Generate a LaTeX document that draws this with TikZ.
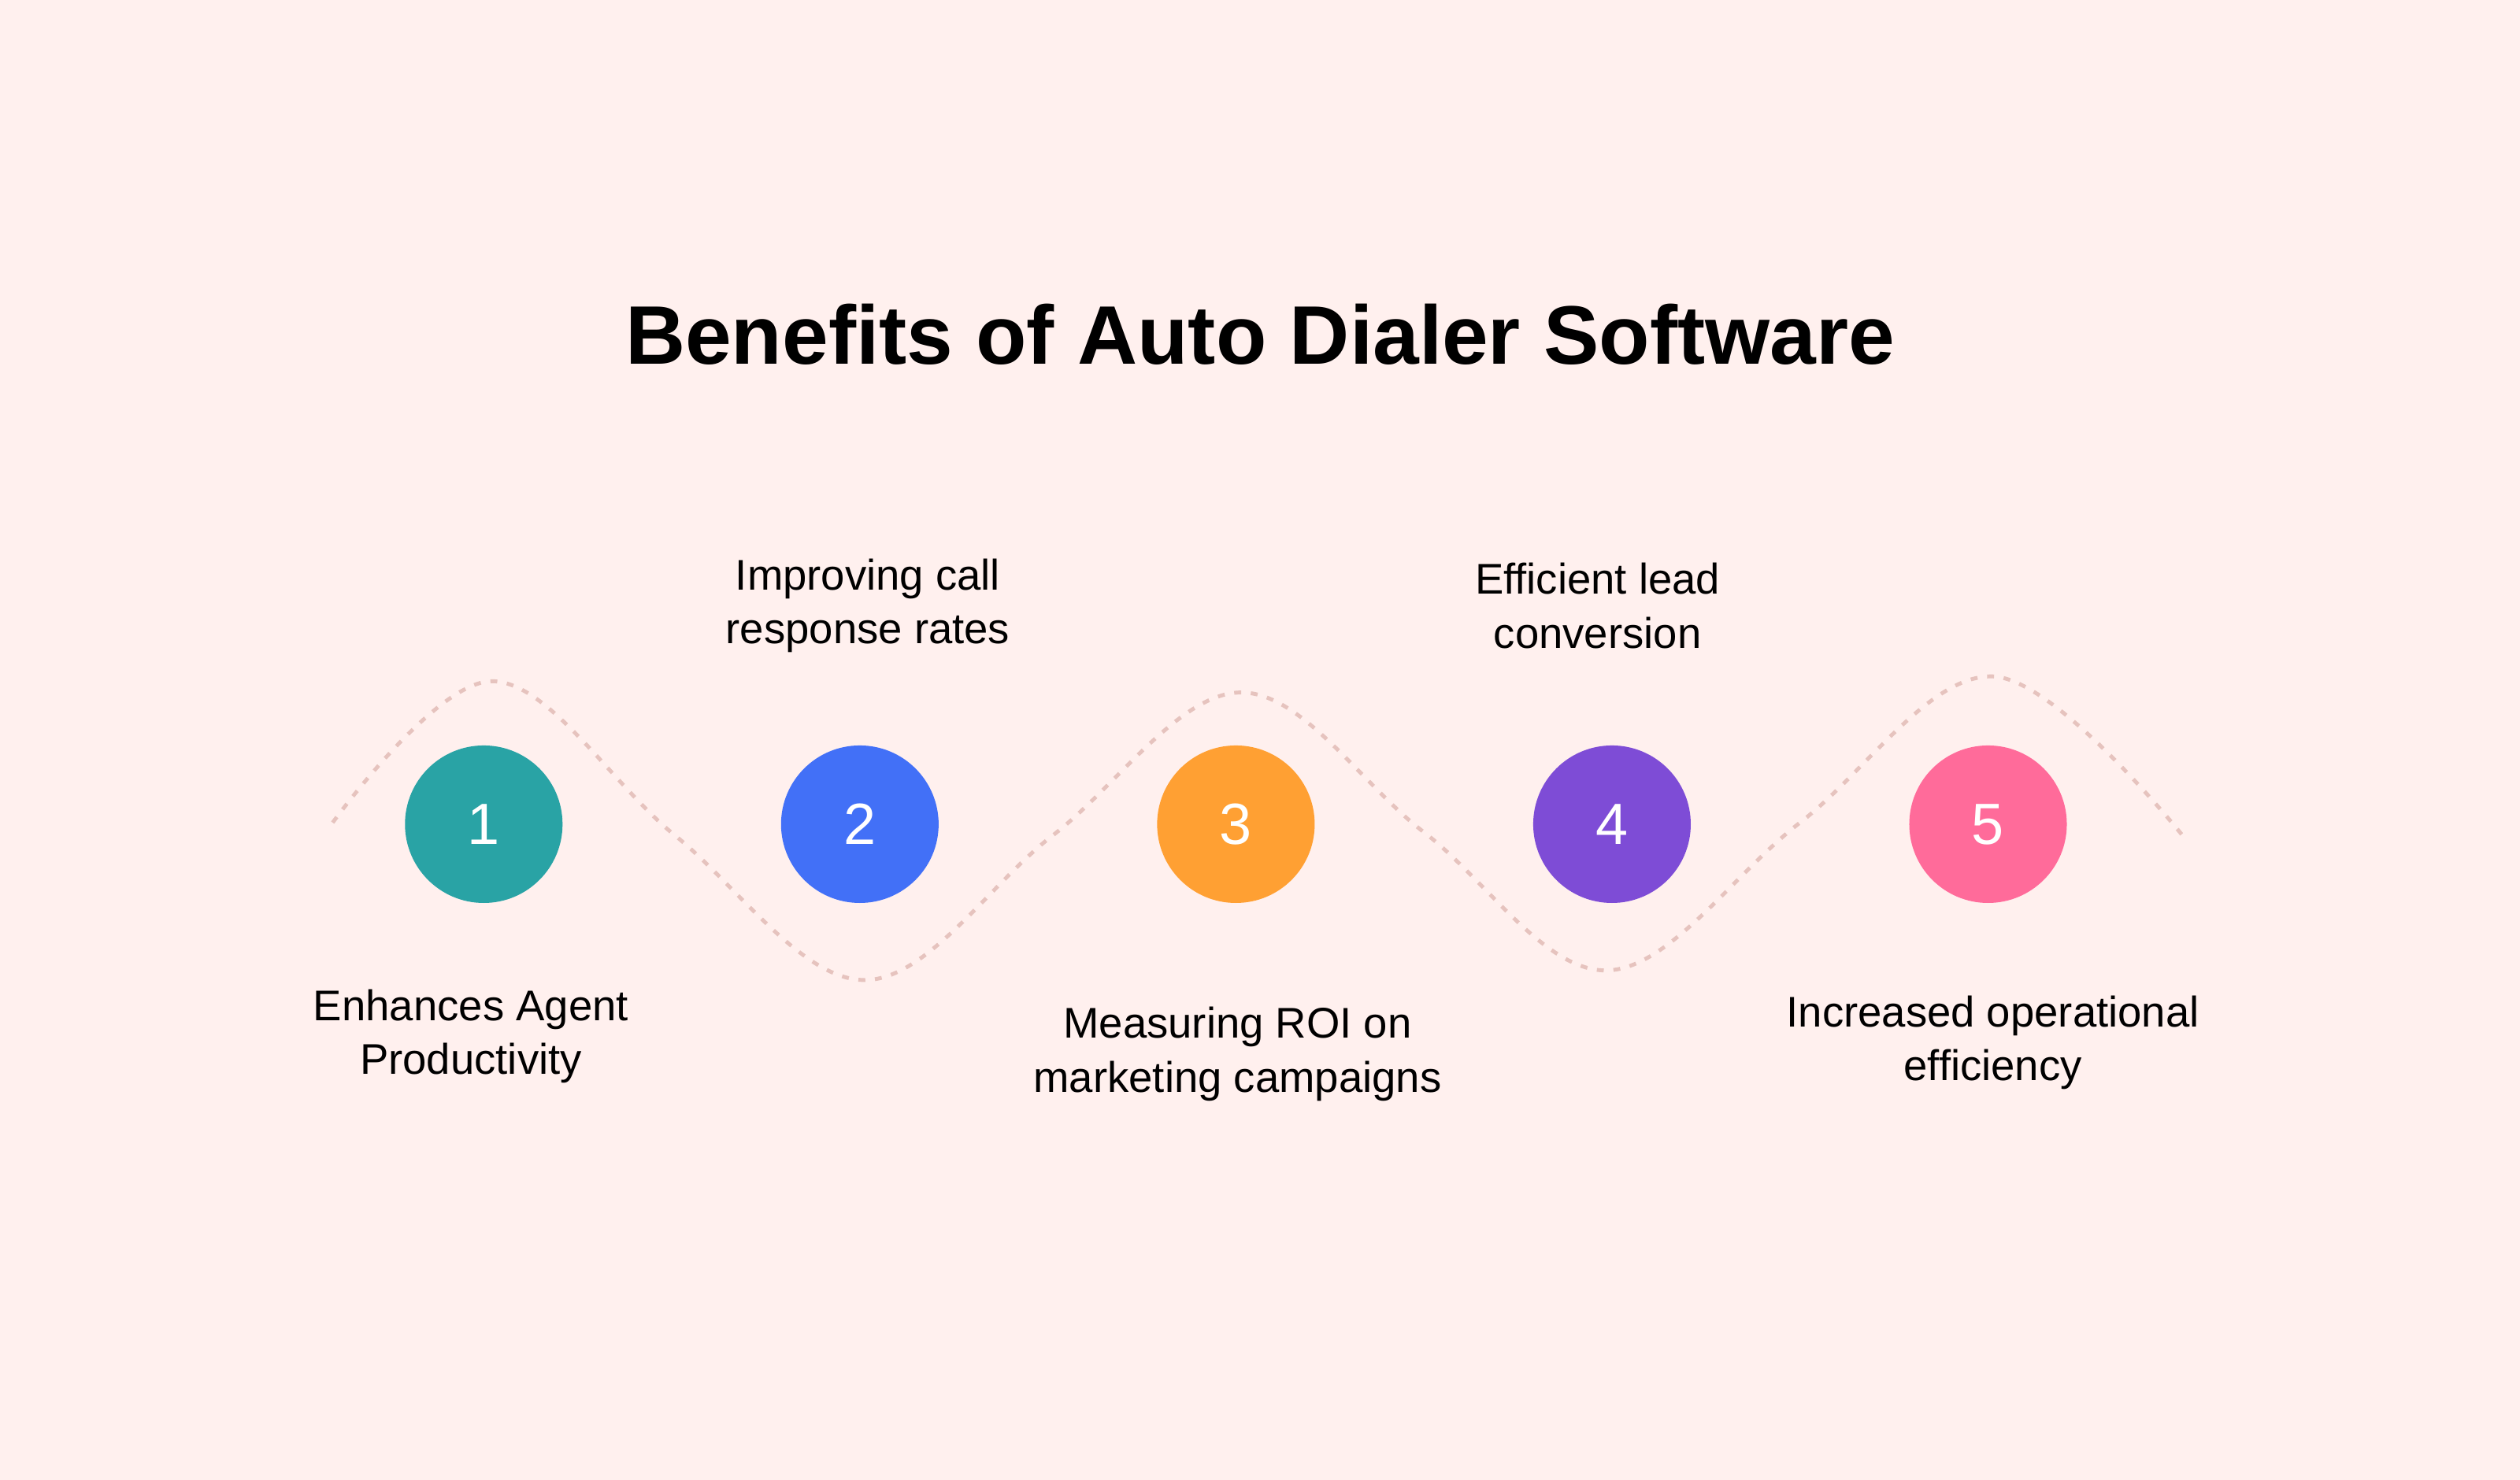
\documentclass[tikz,border=0pt]{standalone}
\usepackage{fontspec}
\setmainfont{Liberation Sans}
\definecolor{bg}{HTML}{FFF0EE}
\definecolor{wave}{HTML}{E6C3BE}
\definecolor{c1}{HTML}{29A3A5}
\definecolor{c2}{HTML}{4270F7}
\definecolor{c3}{HTML}{FFA033}
\definecolor{c4}{HTML}{7E4CD6}
\definecolor{c5}{HTML}{FF6B9A}
\begin{document}
\begin{tikzpicture}[x=0.020408cm,y=-0.020408cm,
  dot/.style={circle,minimum size=2.0cm,inner sep=0,text=white,font=\fontsize{21}{24}\selectfont},
  lbl/.style={align=center,font=\fontsize{15.5}{19.5}\selectfont,text=black}]
\fill[bg] (0,0) rectangle (1568,921);
\useasboundingbox (0,0) rectangle (1568,921);
\node[font=\fontsize{30}{34}\selectfont\bfseries] (title) at (784,208) {Benefits of Auto Dialer Software};
\draw[wave,line width=1.4pt,dash pattern=on 2.5pt off 3.5pt] plot[smooth,tension=0.6] coordinates
 {(207,512) (307,424) (420,520) (538,610) (655,520) (772,431) (886,518) (1000,604) (1120,512) (1240,421) (1358,520)};
\node[dot,fill=c1] (n1) at (301,513) {1};
\node[dot,fill=c2] (n2) at (535,513) {2};
\node[dot,fill=c3] (n3) at (769,513) {3};
\node[dot,fill=c4] (n4) at (1003,513) {4};
\node[dot,fill=c5] (n5) at (1237,513) {5};
\node[lbl] (l2) at (540,377) {Improving call\\response rates};
\node[lbl] (l4) at (994,377) {Efficient lead\\conversion};
\node[lbl] (l1) at (293,645) {Enhances Agent\\Productivity};
\node[lbl] (l3) at (770,656) {Measuring ROI on\\marketing campaigns};
\node[lbl] (l5) at (1240,649) {Increased operational\\efficiency};
\end{tikzpicture}
\end{document}
